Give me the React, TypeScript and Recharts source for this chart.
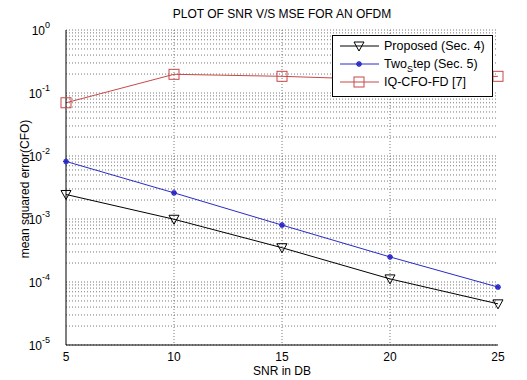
import React from 'react';
import { LineChart, Line, XAxis, YAxis, CartesianGrid, Legend } from 'recharts';

const snr = [5, 10, 15, 20, 25];
const proposed = [2.45e-3, 9.9e-4, 3.5e-4, 1.12e-4, 4.5e-5];
const twoStep = [8.2e-3, 2.6e-3, 8.0e-4, 2.5e-4, 8.3e-5];
const iqCfoFd = [7.0e-2, 0.198, 0.184, 0.162, 0.184];

const xTicks = [5, 10, 15, 20, 25];
const decades = [-5, -4, -3, -2, -1];

// log ticks: every 1..9 x 10^n, plus 10^0
const yTicks: number[] = [];
decades.forEach((d) => {
  for (let k = 1; k <= 9; k++) yTicks.push(Number((k * Math.pow(10, d)).toPrecision(3)));
});
yTicks.push(1);

const data = snr.map((s, i) => ({
  snr: s,
  proposed: proposed[i],
  twoStep: twoStep[i],
  iq: iqCfoFd[i],
}));

const FONT = '"Liberation Sans", Arial, sans-serif';
const BLUE = '#2a2ac8';
const RED = '#c84848';

const TriangleDown = ({ cx, cy }: { cx: number; cy: number }) => (
  <path d={`M${cx - 5},${cy - 4} L${cx + 5},${cy - 4} L${cx},${cy + 5} Z`} fill="none" stroke="#000" strokeWidth={1} />
);

const Star = ({ cx, cy }: { cx: number; cy: number }) => (
  <g stroke={BLUE} strokeWidth={1.5}>
    <line x1={cx - 3} y1={cy} x2={cx + 3} y2={cy} />
    <line x1={cx} y1={cy - 3} x2={cx} y2={cy + 3} />
    <line x1={cx - 2} y1={cy - 2} x2={cx + 2} y2={cy + 2} />
    <line x1={cx - 2} y1={cy + 2} x2={cx + 2} y2={cy - 2} />
  </g>
);

const Square = ({ cx, cy }: { cx: number; cy: number }) => (
  <rect x={cx - 5} y={cy - 5} width={10} height={10} fill="none" stroke={RED} strokeWidth={1} />
);

const YTick = (props: any) => {
  const { x, y, payload } = props;
  const v = payload.value;
  const e = Math.round(Math.log10(v));
  if (Math.abs(Math.log10(v) - e) > 1e-6) return null;
  return (
    <text x={x - 8} y={y + 5} textAnchor="end" fontFamily={FONT} fontSize={12} fill="#000">
      <tspan>10</tspan>
      <tspan dy={-7} fontSize={9}>{String(e)}</tspan>
    </text>
  );
};

const legendRows = [
  { key: 'p', color: '#000', marker: 'tri', label: <>Proposed (Sec. 4)</> },
  { key: 't', color: BLUE, marker: 'star', label: <>Two<tspan dy={4} fontSize={9}>S</tspan><tspan dy={-4}>tep (Sec. 5)</tspan></> },
  { key: 'i', color: RED, marker: 'sq', label: <>IQ-CFO-FD [7]</> },
];

const LegendBox = () => (
  <svg width={161} height={62} style={{ display: 'block' }}>
    <rect x={0.5} y={0.5} width={160} height={61} fill="#fff" stroke="#000" />
    {legendRows.map((r, i) => {
      const cy = 11 + i * 18;
      return (
        <g key={r.key}>
          <line x1={8} y1={cy} x2={47} y2={cy} stroke={r.color} strokeWidth={1} />
          {r.marker === 'tri' && <TriangleDown cx={27} cy={cy} />}
          {r.marker === 'star' && <Star cx={27} cy={cy} />}
          {r.marker === 'sq' && <Square cx={27} cy={cy} />}
          <text x={52} y={cy + 4} fontFamily={FONT} fontSize={12.5} fill="#000">
            {r.label}
          </text>
        </g>
      );
    })}
  </svg>
);

export default function App() {
  return (
    <div style={{ position: 'absolute', left: 0, top: 0, width: 527, height: 380, background: '#fff', fontFamily: FONT }}>
      <div style={{ position: 'absolute', left: 66, width: 432, top: 7, textAlign: 'center', fontSize: 12, color: '#000' }}>
        PLOT OF SNR V/S MSE FOR AN OFDM
      </div>
      <div
        style={{
          position: 'absolute',
          left: 25,
          top: 189,
          transform: 'translate(-50%, -50%) rotate(-90deg)',
          whiteSpace: 'nowrap',
          fontSize: 12,
          color: '#000',
        }}
      >
        mean squared error(CFO)
      </div>
      <div style={{ position: 'absolute', left: 66, width: 432, top: 364, lineHeight: '14px', textAlign: 'center', fontSize: 12, color: '#000' }}>
        SNR in DB
      </div>
      <LineChart width={527} height={380} data={data} margin={{ top: 30, right: 29, left: 0, bottom: 0 }}>
        <CartesianGrid stroke="#777" strokeDasharray="1 2" horizontalValues={yTicks} verticalValues={[10, 15, 20]} />
        <XAxis
          dataKey="snr"
          type="number"
          domain={[5, 25]}
          ticks={xTicks}
          height={35}
          stroke="#000"
          tickLine={false}
          tickMargin={1}
          tick={{ fontFamily: FONT, fontSize: 12, fill: '#000' }}
        />
        <XAxis xAxisId="top" dataKey="snr" type="number" domain={[5, 25]} ticks={xTicks} orientation="top" height={0} mirror tick={false} tickSize={5} stroke="#000" />
        <XAxis xAxisId="in" dataKey="snr" type="number" domain={[5, 25]} ticks={xTicks} height={0} mirror tick={false} tickSize={5} stroke="#000" />
        <YAxis
          scale="log"
          type="number"
          domain={[1e-5, 1]}
          ticks={yTicks}
          allowDataOverflow
          width={66}
          stroke="#000"
          tickLine={false}
          tick={<YTick />}
          interval={0}
        />
        <YAxis yAxisId="right" orientation="right" scale="log" type="number" domain={[1e-5, 1]} ticks={yTicks} allowDataOverflow width={0} mirror tick={false} tickSize={3} stroke="#000" interval={0} />
        <YAxis yAxisId="in" scale="log" type="number" domain={[1e-5, 1]} ticks={yTicks} allowDataOverflow width={0} mirror tick={false} tickSize={3} stroke="#000" interval={0} />
        <Legend
          layout="vertical"
          align="center"
          verticalAlign="middle"
          content={<LegendBox />}
          wrapperStyle={{ left: 332, top: 35, width: 161, height: 62 }}
        />
        <Line
          dataKey="iq"
          stroke={RED}
          strokeWidth={1}
          isAnimationActive={false}
          dot={(p: any) => <Square key={`iq-${p.index}`} cx={p.cx} cy={p.cy} />}
        />
        <Line
          dataKey="twoStep"
          stroke={BLUE}
          strokeWidth={1}
          isAnimationActive={false}
          dot={(p: any) => <Star key={`ts-${p.index}`} cx={p.cx} cy={p.cy} />}
        />
        <Line
          dataKey="proposed"
          stroke="#000"
          strokeWidth={1}
          isAnimationActive={false}
          dot={(p: any) => <TriangleDown key={`pr-${p.index}`} cx={p.cx} cy={p.cy} />}
        />
      </LineChart>
    </div>
  );
}
